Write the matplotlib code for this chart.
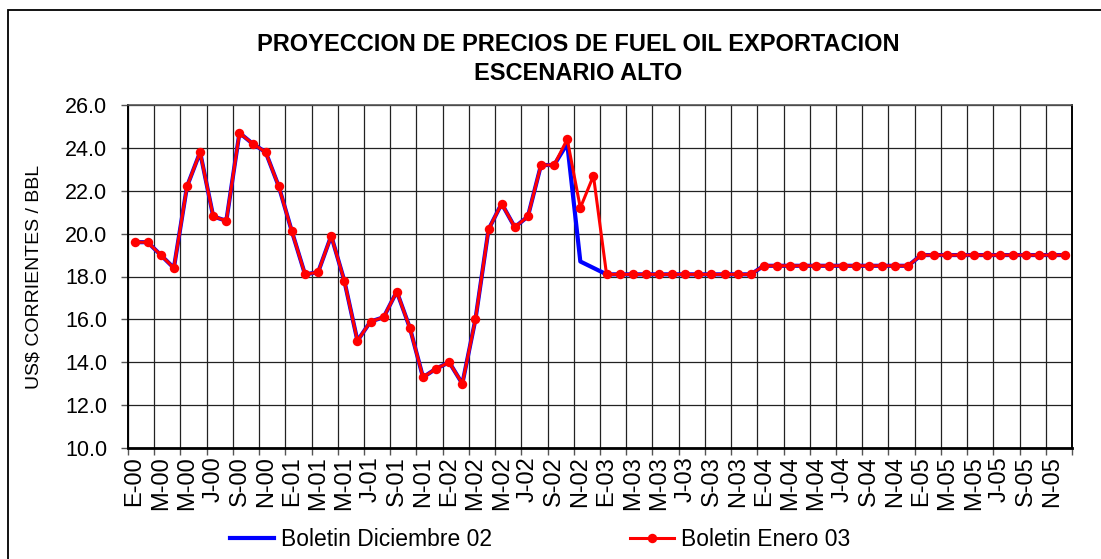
import matplotlib
matplotlib.use("Agg")
import matplotlib.pyplot as plt
from matplotlib.patches import Rectangle

plt.rcParams['font.family'] = ['Liberation Sans', 'DejaVu Sans']

title = "PROYECCION DE PRECIOS DE FUEL OIL EXPORTACION\nESCENARIO ALTO"
ylabel = "US$ CORRIENTES / BBL"
series_names = ["Boletin Diciembre 02", "Boletin Enero 03"]

month_letters = ["E", "F", "M", "A", "M", "J", "J", "A", "S", "O", "N", "D"]
years = ["00", "01", "02", "03", "04", "05"]
months = [f"{m}-{y}" for y in years for m in month_letters]

common_2000_2002 = [19.6, 19.6, 19.0, 18.4, 22.2, 23.8, 20.8, 20.6, 24.7, 24.2, 23.8, 22.2,
                    20.1, 18.1, 18.2, 19.9, 17.8, 15.0, 15.9, 16.1, 17.3, 15.6, 13.3, 13.7,
                    14.0, 13.0, 16.0, 20.2, 21.4, 20.3, 20.8, 23.2, 23.2]
dic02_late2002 = [24.2, 18.7, 18.4]
ene03_late2002 = [24.4, 21.2, 22.7]
proj_2003 = [18.1] * 12
proj_2004 = [18.5] * 12
proj_2005 = [19.0] * 12

dic02 = common_2000_2002 + dic02_late2002 + proj_2003 + proj_2004 + proj_2005
ene03 = common_2000_2002 + ene03_late2002 + proj_2003 + proj_2004 + proj_2005

yticks = [10.0, 12.0, 14.0, 16.0, 18.0, 20.0, 22.0, 24.0, 26.0]

fig = plt.figure(figsize=(11.01, 5.59), dpi=100)
W, H = 1101, 559
ax = fig.add_axes([128 / W, 1 - 448 / H, (1072 - 128) / W, (448 - 105) / H])

x = list(range(len(months)))
ax.plot(x, dic02, color="#0000FF", lw=3.0, label=series_names[0], zorder=3)
ax.plot(x, ene03, color="#FF0000", lw=2.2, marker="o", markersize=6.8,
        markeredgewidth=0, label=series_names[1], zorder=4)

ax.set_xlim(-0.5, len(months) - 0.5)
ax.set_ylim(yticks[0], yticks[-1])
ax.set_yticks(yticks)
ax.set_yticklabels([f"{v:.1f}" for v in yticks], fontsize=15.5)

major = x[::2]
ax.set_xticks(major)
ax.set_xticklabels(months[::2], rotation=90, fontsize=17)
ax.tick_params(axis="x", which="major", length=0, pad=6)
minor = [i - 0.5 for i in range(2, len(months), 2)] + [-0.5, len(months) - 0.5]
ax.set_xticks(minor, minor=True)
ax.tick_params(axis="x", which="minor", length=5, width=1, direction="out", color="#555555")
ax.tick_params(axis="y", which="major", length=5, width=1, direction="out", color="#555555", pad=10)

ax.grid(True, which="minor", axis="x", color="#222222", lw=0.9)
ax.grid(True, which="major", axis="y", color="#222222", lw=0.9)
ax.set_axisbelow(True)

for s in ["left", "right"]:
    ax.spines[s].set_linewidth(1.4)
    ax.spines[s].set_color("black")
ax.spines["top"].set_linewidth(1.2)
ax.spines["top"].set_color("#555555")
ax.spines["bottom"].set_linewidth(2.0)
ax.spines["bottom"].set_color("black")

ax.set_ylabel(ylabel, fontsize=14)
ax.yaxis.set_label_coords((43 - 128) / (1072 - 128), 0.5)

fig.text(578 / W, 1 - 59 / H, title, ha="center", va="center", fontsize=17,
         fontweight="bold", linespacing=1.35)

leg = fig.legend(loc="center", bbox_to_anchor=(540 / W, 1 - 540 / H), ncol=2,
                 frameon=False, fontsize=16.5, handlelength=1.95, handletextpad=0.3,
                 columnspacing=6.0, borderaxespad=0)

fig.add_artist(Rectangle((8 / W, -0.1), 1.5, (1 - 10 / H) + 0.1, fill=False,
                         edgecolor="black", lw=1.3, transform=fig.transFigure))

fig.savefig("out.png", dpi=100)
